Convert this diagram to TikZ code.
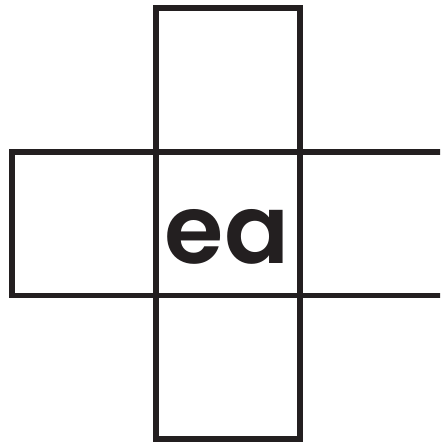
\documentclass[tikz,border=0pt]{standalone}
\usepackage{fontspec}
\newfontfamily\popfont{Poppins SemiBold}
\definecolor{ink}{HTML}{231F20}
\begin{document}
\begin{tikzpicture}[x=1pt,y=-1pt,
  cell/.style={draw=ink,line width=5.8pt,minimum width=144pt,minimum height=143.5pt,inner sep=0pt,outer sep=0pt},
  label/.style={text=ink,font=\popfont\fontsize{96}{96}\selectfont,inner sep=0pt,anchor=base}]
\useasboundingbox (0,0) rectangle (440,442);
\clip (0,0) rectangle (440,442);
\fill[white] (0,0) rectangle (440,442);
\node[cell] (top) at (228,79.75) {};
\node[cell] (left) at (84,223.75) {};
\node[cell] (center) at (228,223.75) {};
\node[cell] (right) at (372,223.75) {};
\node[cell] (bottom) at (228,367.25) {};
\node[label] (txt) at (227,263) {ea};
\end{tikzpicture}
\end{document}
